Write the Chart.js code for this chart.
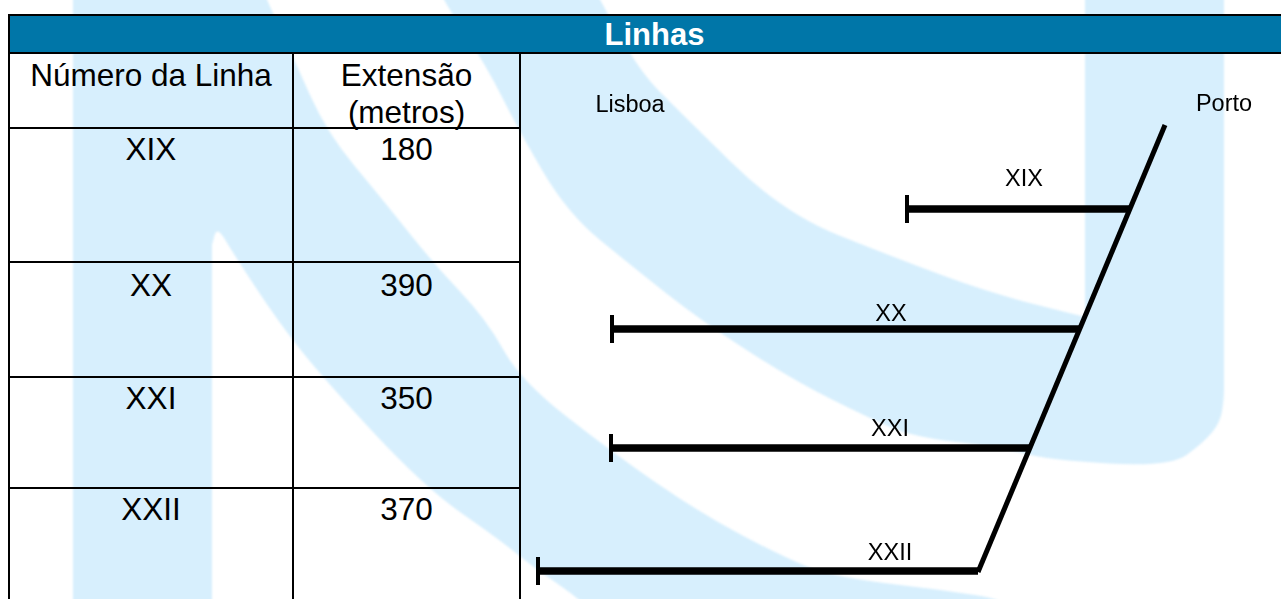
<!DOCTYPE html>
<html>
<head>
<meta charset="utf-8">
<title>Linhas</title>
<script src="https://cdn.jsdelivr.net/npm/chart.js@4/dist/chart.umd.min.js"></script>
<style>
  html, body { margin: 0; padding: 0; background: #fff; overflow: hidden; }
  #page { position: relative; width: 1281px; height: 599px; font-family: "Liberation Sans", Arial, sans-serif; color: #000; overflow: hidden; }
  #mark, #c { position: absolute; left: 0; top: 0; }
  #mark g { filter: blur(1px); }
  .head { position: absolute; left: 8px; right: 0; top: 14px; height: 36px; padding-left: 18px; background: #0076a8; border: solid #000; border-width: 2px 0 2px 2px;
          color: #fff; font-weight: bold; font-size: 31px; line-height: 38px; text-align: center; }
  .rule { position: absolute; background: #000; }
  .cell { position: absolute; text-align: center; font-size: 31.5px; line-height: 38px; transform: translateY(-50%); }
</style>
</head>
<body>
<div id="page">
  <svg id="mark" width="1281" height="599" viewBox="0 0 1281 599">
    <g fill="#d7effd"><path id="wm1"></path><path id="wm2"></path></g>
  </svg>
  <div class="head">Linhas</div>
  <div id="table"></div>
  <canvas id="c" width="1281" height="599"></canvas>
</div>
<script>
const tableHead = ['Número da Linha', 'Extensão', '(metros)'];
const lineNames = ['XIX', 'XX', 'XXI', 'XXII'];
const lineLengths = [180, 390, 350, 370];
const lineStart = [907, 612, 611, 538];
const lineEnd = [1130, 1080, 1030, 978];
const lineLevel = [209, 329, 448, 571];
const labelX = [1024, 891, 890, 890];
const labelY = [180, 315, 430, 554];
const spineX = [1165, 978];
const spineY = [125, 572];
const cityNames = ['Lisboa', 'Porto'];
const cityX = [630, 1224];
const cityY = [106, 105];

const rowText = [149, 285, 398, 509];

// background logo outline, smoothed through the midpoints (a doubled point stays a sharp corner)
const wmLeft = [[73,-30],[73,-30],[254,-30],[254,-30],[267,0],[293,57],[327,133],[383,200],[433,263],[487,320],[520,380],[613,453],[700,513],[783,557],[833,577],[967,593],[1010,602],[1010,630],[1010,630],[610,630],[610,630],[580,599],[533,567],[500,540],[424,487],[322,377],[277,320],[233,253],[217,226],[212,245],[212,245],[212,630],[212,630],[73,630],[73,630]];
const wmRight = [[430,-30],[430,-30],[443,0],[487,67],[517,127],[567,213],[633,267],[700,320],[793,380],[867,417],[913,437],[1000,447],[1048,460],[1170,467],[1203,443],[1220,423],[1224,400],[1224,380],[1224,380],[1224,-30],[1224,-30],[1085,-30],[1085,-30],[1085,317],[1085,317],[990,293],[893,257],[783,213],[681,113],[640,72],[600,0],[585,-30],[585,-30]];
function smooth(pts) {
  const mid = (a, b) => [(a[0] + b[0]) / 2, (a[1] + b[1]) / 2];
  let s = mid(pts[pts.length - 1], pts[0]);
  let d = `M${s[0]} ${s[1]}`;
  pts.forEach((p, i) => {
    const m = mid(p, pts[(i + 1) % pts.length]);
    d += `Q${p[0]} ${p[1]} ${m[0]} ${m[1]}`;
  });
  return d + 'Z';
}
document.getElementById('wm1').setAttribute('d', smooth(wmLeft));
document.getElementById('wm2').setAttribute('d', smooth(wmRight));

// table is plain html, built from the same arrays
const tbl = document.getElementById('table');
let html = '';
html += `<div class="rule" style="left:8px;top:14px;width:2px;height:585px"></div>`;
html += `<div class="rule" style="left:292px;top:52px;width:2px;height:547px"></div>`;
html += `<div class="rule" style="left:519px;top:52px;width:2px;height:547px"></div>`;
[127, 261, 376, 487].forEach(y => { html += `<div class="rule" style="left:8px;top:${y}px;width:512px;height:2px"></div>`; });
html += `<div class="cell" style="left:10px;width:282px;top:75px">${tableHead[0]}</div>`;
html += `<div class="cell" style="left:294px;width:225px;top:75px">${tableHead[1]}</div>`;
html += `<div class="cell" style="left:294px;width:225px;top:112px">${tableHead[2]}</div>`;
lineNames.forEach((n, i) => {
  html += `<div class="cell" style="left:10px;width:282px;top:${rowText[i]}px">${n}</div>`;
  html += `<div class="cell" style="left:294px;width:225px;top:${rowText[i]}px">${lineLengths[i]}</div>`;
});
tbl.innerHTML = html;

const datasets = [];
// the long slanted line
datasets.push({ data: spineX.map((x, i) => ({ x, y: spineY[i] })), borderColor: '#000', borderWidth: 5, pointRadius: 0, showLine: true });
lineNames.forEach((n, i) => {
  datasets.push({
    label: n,
    data: [{ x: lineStart[i], y: lineLevel[i] }, { x: lineEnd[i], y: lineLevel[i] }],
    borderColor: '#000', borderWidth: 7.5, showLine: true,
    pointStyle: ['line', false], pointRadius: [14, 0], pointRotation: 90,
    pointBorderColor: '#000', pointBorderWidth: 4
  });
});

const textLabels = {
  id: 'textLabels',
  afterDatasetsDraw(chart) {
    const { ctx, scales: { x, y } } = chart;
    ctx.save();
    ctx.fillStyle = '#000';
    ctx.font = '23.5px "Liberation Sans", Arial, sans-serif';
    ctx.textAlign = 'center';
    ctx.textBaseline = 'middle';
    lineNames.forEach((n, i) => ctx.fillText(n, x.getPixelForValue(labelX[i]), y.getPixelForValue(labelY[i])));
    cityNames.forEach((n, i) => ctx.fillText(n, x.getPixelForValue(cityX[i]), y.getPixelForValue(cityY[i])));
    ctx.restore();
  }
};

new Chart(document.getElementById('c'), {
  type: 'scatter',
  data: { datasets },
  plugins: [textLabels],
  options: {
    responsive: false,
    animation: false,
    layout: { padding: 0, autoPadding: false },
    plugins: { legend: { display: false }, tooltip: { enabled: false }, title: { display: false } },
    scales: {
      x: { type: 'linear', display: false, min: 0, max: 1281 },
      y: { type: 'linear', display: false, min: 0, max: 599, reverse: true }
    }
  }
});
</script>
</body>
</html>
